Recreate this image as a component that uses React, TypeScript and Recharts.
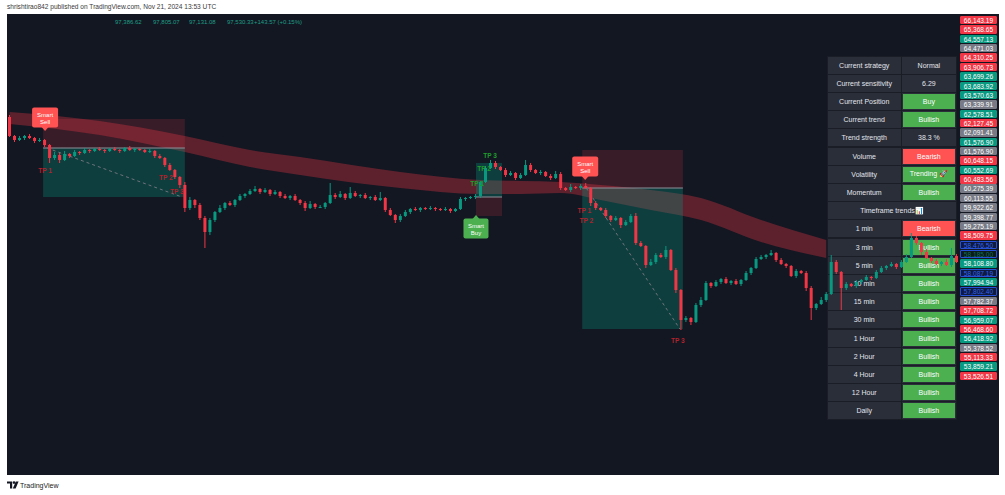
import React from 'react';
import { ComposedChart, Bar, Area, XAxis, YAxis, ReferenceArea, ReferenceLine, ReferenceDot } from 'recharts';

const FONT = '"Liberation Sans", Arial, sans-serif';
const UP = '#089981';
const DOWN = '#f23645';

// ---- candle data (price units) ----
const firstOpen = 98980;
const closes = [
  98790, 98750, 98770, 98790, 98770, 98740, 98750, 98700, 98570, 98600,
  98550, 98610, 98590, 98630, 98620, 98650, 98640, 98660, 98650, 98640,
  98660, 98650, 98640, 98670, 98650, 98660, 98650, 98630, 98640, 98590,
  98570, 98500, 98450, 98380, 98300, 98070, 98150, 98100, 97970, 97830,
  97950, 98030, 98070, 98120, 98100, 98150, 98190, 98210, 98240, 98260,
  98230, 98250, 98210, 98230, 98190, 98170, 98190, 98150, 98120, 98070,
  98110, 98080, 98080, 98120, 98200, 98180, 98210, 98170, 98220, 98190,
  98200, 98170, 98180, 98150, 98170, 98050, 98000, 97950, 97990, 98030,
  98060, 98050, 98070, 98060, 98070, 98060, 98050, 98060, 98040, 98060,
  98160, 98170, 98180, 98190, 98330, 98470, 98520, 98480, 98450, 98400,
  98420, 98370, 98400, 98500, 98450, 98420, 98430, 98390, 98370, 98410,
  98270, 98250, 98280, 98270, 98290, 98270, 98120, 98070, 98050, 97990,
  97950, 97970, 97900, 97930, 97990, 97720, 97690, 97500, 97530, 97600,
  97580, 97650, 97450, 97250, 96950, 96970, 96930, 97100, 97150, 97320,
  97290, 97330, 97360, 97320, 97340, 97310, 97350, 97420, 97470, 97560,
  97580, 97600, 97620, 97550, 97510, 97490, 97390, 97440, 97420, 97270,
  97070, 97110, 97150, 97210, 97530, 97430, 97270, 97310, 97290, 97330,
  97350, 97380, 97370, 97430, 97470, 97490, 97510, 97480, 97530, 97580,
  97770, 97720, 97630, 97570, 97540, 97510, 97530, 97500, 97590, 97530,
];
const wickUp = [
  20, 10, 20, 10, 20, 10, 20, 10, 10, 30,
  20, 30, 10, 20, 10, 20, 10, 10, 20, 10,
  10, 20, 10, 10, 20, 10, 10, 10, 20, 10,
  20, 10, 20, 10, 10, 30, 30, 10, 20, 20,
  20, 10, 30, 10, 20, 10, 20, 10, 20, 30,
  10, 20, 10, 20, 10, 20, 10, 20, 10, 20,
  30, 10, 20, 10, 120, 20, 30, 10, 60, 20,
  10, 20, 10, 20, 60, 10, 20, 10, 20, 20,
  10, 20, 10, 10, 20, 10, 10, 20, 10, 10,
  20, 10, 10, 20, 10, 20, 30, 20, 10, 20,
  20, 10, 20, 50, 20, 10, 20, 10, 20, 30,
  20, 10, 30, 10, 20, 30, 10, 20, 10, 20,
  10, 20, 10, 20, 20, 30, 20, 10, 30, 20,
  20, 40, 10, 20, 10, 20, 10, 20, 30, 20,
  10, 20, 10, 20, 10, 20, 10, 20, 10, 20,
  20, 10, 30, 10, 20, 10, 10, 20, 10, 20,
  20, 10, 30, 20, 70, 20, 10, 20, 10, 20,
  10, 20, 10, 20, 20, 10, 20, 10, 20, 30,
  50, 20, 10, 30, 10, 20, 10, 30, 80, 20,
];
const wickDown = [
  10, 20, 10, 20, 10, 20, 10, 20, 50, 20,
  30, 10, 20, 10, 20, 10, 20, 10, 10, 20,
  10, 10, 20, 10, 10, 20, 10, 10, 10, 20,
  10, 20, 10, 20, 30, 40, 20, 30, 20, 160,
  30, 20, 10, 20, 10, 20, 10, 20, 10, 10,
  20, 10, 20, 10, 20, 10, 20, 10, 20, 30,
  10, 20, 10, 20, 10, 20, 10, 20, 10, 10,
  20, 10, 20, 10, 10, 20, 10, 30, 20, 10,
  20, 10, 20, 10, 10, 20, 10, 10, 20, 10,
  10, 20, 10, 20, 20, 10, 10, 20, 10, 20,
  10, 20, 10, 10, 20, 10, 20, 10, 20, 10,
  20, 10, 20, 10, 20, 10, 30, 20, 10, 20,
  20, 10, 30, 10, 10, 20, 10, 30, 10, 20,
  10, 20, 10, 30, 100, 20, 30, 10, 20, 10,
  20, 10, 20, 10, 20, 10, 20, 10, 20, 10,
  10, 20, 10, 20, 10, 20, 10, 20, 10, 30,
  120, 20, 10, 20, 10, 20, 220, 20, 10, 20,
  20, 10, 20, 10, 10, 20, 10, 20, 10, 10,
  10, 20, 30, 10, 20, 10, 20, 10, 20, 10,
];

// ---- moving-average band (read at key candles) ----
const bandAt = [0, 18, 35, 48, 58, 78, 94, 102, 110, 118, 128, 138, 150, 163];
const bandHigh = [99030, 98940, 98790, 98650, 98580, 98430, 98350, 98340, 98330, 98300, 98250, 98170, 97950, 97750];
const bandLow = [98910, 98800, 98630, 98480, 98400, 98270, 98210, 98210, 98220, 98150, 98050, 97950, 97730, 97570];

// ---- trades ----
const trades = [
  { from: 6.7, to: 35.0, entry: 98670, stop: 98960, target: 98180, side: 'sell' },
  { from: 93.1, to: 98.3, entry: 98180, stop: 97990, target: 98520, side: 'buy' },
  { from: 114.3, to: 134.4, entry: 98270, stop: 98650, target: 96860, side: 'sell' },
];
const tradePaths = [
  { x1: 7.5, y1: 98670, x2: 34.4, y2: 98180 },
  { x1: 115.1, y1: 98270, x2: 133.8, y2: 96860 },
];
const sellSignals = [{ i: 7.1, price: 98840 }, { i: 114.9, price: 98350 }];
const buySignals = [{ i: 93.1, price: 98000 }];
const sellTargets = [
  { i: 7.1, price: 98450, label: 'TP 1' },
  { i: 31.2, price: 98380, label: 'TP 2' },
  { i: 33.4, price: 98240, label: 'TP 3' },
  { i: 114.7, price: 98050, label: 'TP 1' },
  { i: 115.1, price: 97950, label: 'TP 2' },
  { i: 133.4, price: 96750, label: 'TP 3' },
];
const buyTargets = [
  { i: 93.3, price: 98320, label: 'TP 1' },
  { i: 94.7, price: 98470, label: 'TP 2' },
  { i: 95.9, price: 98600, label: 'TP 3' },
];

// ---- header / table / side labels ----
const ohlcTexts = ['97,386.62', '97,805.07', '97,131.08', '97,530.33', '+143.57 (+0.15%)'];
const ohlcLeft = [115, 153, 189, 227, 254];

const tableRows = [
  ['Current strategy', 'Normal', ''],
  ['Current sensitivity', '6.29', ''],
  ['Current Position', 'Buy', 'up'],
  ['Current trend', 'Bullish', 'up'],
  ['Trend strength', '38.3 %', ''],
  ['Volume', 'Bearish', 'down'],
  ['Volatility', 'Trending 🚀', 'up'],
  ['Momentum', 'Bullish', 'up'],
  ['Timeframe trends📊', '', 'span'],
  ['1 min', 'Bearish', 'down'],
  ['3 min', 'Bullish', 'up'],
  ['5 min', 'Bullish', 'up'],
  ['10 min', 'Bullish', 'up'],
  ['15 min', 'Bullish', 'up'],
  ['30 min', 'Bullish', 'up'],
  ['1 Hour', 'Bullish', 'up'],
  ['2 Hour', 'Bullish', 'up'],
  ['4 Hour', 'Bullish', 'up'],
  ['12 Hour', 'Bullish', 'up'],
  ['Daily', 'Bullish', 'up'],
];

const priceLabels = [
  '66,143.19', '65,368.65', '64,557.13', '64,471.03', '64,310.25', '63,906.73', '63,699.26', '63,683.92',
  '63,570.63', '63,339.91', '62,578.51', '62,127.45', '62,091.41', '61,576.90', '61,576.90', '60,648.15',
  '60,552.69', '60,483.56', '60,275.39', '60,113.55', '59,922.62', '59,398.77', '59,275.19', '58,509.75',
  '58,476.50', '58,185.00', '58,108.80', '58,087.19', '57,994.94', '57,802.40', '57,782.37', '57,708.72',
  '56,959.07', '56,468.60', '56,418.92', '55,378.52', '55,113.33', '53,859.21', '53,526.51',
];
const priceLabelKinds = [
  'r', 'r', 'g', 'x', 'r', 'r', 'g', 'g',
  'g', 'x', 'g', 'r', 'x', 'g', 'x', 'r',
  'g', 'r', 'x', 'x', 'x', 'x', 'x', 'r',
  'b', 'k', 'g', 'b', 'g', 'b', 'x', 'r',
  'g', 'r', 'g', 'x', 'r', 'g', 'r',
];
const labelStyles: Record<string, any> = {
  r: { background: '#f23645', color: '#ffffff', border: '1px solid #f23645' },
  g: { background: '#089981', color: '#ffffff', border: '1px solid #089981' },
  x: { background: '#787b86', color: '#ffffff', border: '1px solid #787b86' },
  b: { background: '#101a3e', color: '#2f62f0', border: '1px solid #2451d8' },
  k: { background: '#0d1a1a', color: '#0b6e58', border: '1px solid #2451d8' },
};

const candles = closes.map((c, i) => {
  const o = i === 0 ? firstOpen : closes[i - 1];
  const h = Math.max(o, c) + wickUp[i];
  const l = Math.min(o, c) - wickDown[i];
  return { i, o, h, l, c, range: [l, h] };
});
const bandData = bandAt.map((i, k) => ({ i, band: [bandLow[k], bandHigh[k]] }));

const Candle = (props: any) => {
  const { x, y, width, height } = props;
  const p = props.payload && props.payload.o !== undefined ? props.payload : props;
  const { o, h, l, c } = p;
  if (![x, y, width, height].every((v) => typeof v === 'number' && isFinite(v))) return null;
  const span = h - l;
  const toY = (v: number) => y + ((h - v) / span) * height;
  const cx = x + width / 2;
  const color = c >= o ? UP : DOWN;
  const top = toY(Math.max(o, c));
  const bot = toY(Math.min(o, c));
  const bw = 3;
  return (
    <g>
      <line x1={cx} x2={cx} y1={y} y2={y + height} stroke={color} strokeWidth={1} />
      <rect x={cx - bw / 2} y={top} width={bw} height={Math.max(1, bot - top)} fill={color} />
    </g>
  );
};

const SellMarker = (props: any) => {
  const { cx, cy } = props;
  if (cx == null || cy == null) return null;
  return (
    <g>
      <path d={`M${cx - 3.5},${cy - 4} L${cx},${cy} L${cx + 3.5},${cy - 4} Z`} fill="#ff5252" />
      <rect x={cx - 13} y={cy - 23.5} width={26} height={20} rx={2} fill="#ff5252" />
      <text x={cx} y={cy - 16.5} textAnchor="middle" dominantBaseline="central" fontSize={6} fill="#ffffff" fontFamily={FONT}>Smart</text>
      <text x={cx} y={cy - 9.5} textAnchor="middle" dominantBaseline="central" fontSize={6} fill="#ffffff" fontFamily={FONT}>Sell</text>
    </g>
  );
};

const BuyMarker = (props: any) => {
  const { cx, cy } = props;
  if (cx == null || cy == null) return null;
  return (
    <g>
      <path d={`M${cx - 3.5},${cy + 4} L${cx},${cy} L${cx + 3.5},${cy + 4} Z`} fill="#4caf50" />
      <rect x={cx - 12.5} y={cy + 3.5} width={25} height={20} rx={2} fill="#4caf50" />
      <text x={cx} y={cy + 10.5} textAnchor="middle" dominantBaseline="central" fontSize={6} fill="#ffffff" fontFamily={FONT}>Smart</text>
      <text x={cx} y={cy + 17.5} textAnchor="middle" dominantBaseline="central" fontSize={6} fill="#ffffff" fontFamily={FONT}>Buy</text>
    </g>
  );
};

const makeTP = (label: string, color: string) => (props: any) => {
  const { cx, cy } = props;
  if (cx == null || cy == null) return null;
  return (
    <text x={cx} y={cy} textAnchor="middle" dominantBaseline="central" fontSize={6.5} fontWeight={700} fill={color} fontFamily={FONT}>
      {label}
    </text>
  );
};

export default function App() {
  return (
    <div style={{ position: 'absolute', left: 0, top: 0, width: 1005, height: 495, background: '#ffffff', overflow: 'hidden', fontFamily: FONT }}>
      <div style={{ position: 'absolute', left: 7, top: 3, fontSize: 6.6, color: '#3a3a3a', whiteSpace: 'nowrap', lineHeight: '8px' }}>
        shrishtirao842 published on TradingView.com, Nov 21, 2024 13:53 UTC
      </div>
      <div style={{ position: 'absolute', left: 7, top: 14, width: 992, height: 461, background: '#131722' }} />
      {ohlcTexts.map((t, k) => (
        <div key={k} style={{ position: 'absolute', left: ohlcLeft[k], top: 18, fontSize: 6, color: '#1f9e86', whiteSpace: 'nowrap', lineHeight: '8px' }}>{t}</div>
      ))}

      {/* status table */}
      <div style={{ position: 'absolute', left: 827, top: 56, width: 130, height: 364, background: '#1a1d26', zIndex: 1 }}>
        {tableRows.map(([a, b, k], r) => {
          const top = r * 18.2 + 0.6;
          const cellText = { display: 'flex', alignItems: 'center', justifyContent: 'center', fontSize: 7, color: '#e3e5ec', whiteSpace: 'nowrap' } as any;
          if (k === 'span') {
            return (
              <div key={r} style={{ position: 'absolute', left: 0.8, top, width: 128.4, height: 17, background: '#2a2e39', ...cellText }}>{a}</div>
            );
          }
          return (
            <React.Fragment key={r}>
              <div style={{ position: 'absolute', left: 0.8, top, width: 72.8, height: 17, background: '#2a2e39', ...cellText }}>{a}</div>
              <div style={{ position: 'absolute', left: 74.6, top, width: 54.6, height: 17, background: '#2a2e39', ...cellText }}>
                {k ? (
                  <div style={{ position: 'absolute', left: 1.7, right: 1.7, top: 1, bottom: 1, background: k === 'up' ? '#4caf50' : '#ff5252', ...cellText, color: '#ffffff' }}>{b}</div>
                ) : b}
              </div>
            </React.Fragment>
          );
        })}
      </div>

      <div style={{ position: 'absolute', left: 0, top: 0, zIndex: 2 }}>
        <ComposedChart width={1005} height={495} data={candles} margin={{ top: 14, right: 46, bottom: 20, left: 7 }}>
          <XAxis dataKey="i" type="number" domain={[-0.5, 189.5]} allowDataOverflow hide />
          <YAxis type="number" domain={[95400, 100010]} allowDataOverflow hide />
          <Area data={bandData} dataKey="band" type="monotone" fill="#f23645" fillOpacity={0.33} stroke="none" isAnimationActive={false} zIndex={100} />
          {trades.map((t, k) => (
            <ReferenceArea key={`s${k}`} x1={t.from} x2={t.to} y1={t.entry} y2={t.stop} fill="#f23645" fillOpacity={0.17} stroke="none" zIndex={110} />
          ))}
          {trades.map((t, k) => (
            <ReferenceArea key={`t${k}`} x1={t.from} x2={t.to} y1={t.entry} y2={t.target} fill="#089981" fillOpacity={0.3} stroke="none" zIndex={110} />
          ))}
          {trades.map((t, k) => (
            <ReferenceLine key={`e${k}`} segment={[{ x: t.from, y: t.entry }, { x: t.to, y: t.entry }]} stroke="#8d909a" strokeWidth={1} zIndex={120} />
          ))}
          {tradePaths.map((p, k) => (
            <ReferenceLine key={`d${k}`} segment={[{ x: p.x1, y: p.y1 }, { x: p.x2, y: p.y2 }]} stroke="#6f737d" strokeWidth={1} strokeDasharray="3 3" zIndex={120} />
          ))}
          <Bar dataKey="range" barSize={3} shape={Candle} isAnimationActive={false} zIndex={300} />
          {sellSignals.map((s, k) => (
            <ReferenceDot key={`ss${k}`} x={s.i} y={s.price} r={0} shape={SellMarker} zIndex={700} />
          ))}
          {buySignals.map((s, k) => (
            <ReferenceDot key={`bs${k}`} x={s.i} y={s.price} r={0} shape={BuyMarker} zIndex={700} />
          ))}
          {sellTargets.map((s, k) => (
            <ReferenceDot key={`st${k}`} x={s.i} y={s.price} r={0} shape={makeTP(s.label, '#b0222c')} zIndex={700} />
          ))}
          {buyTargets.map((s, k) => (
            <ReferenceDot key={`bt${k}`} x={s.i} y={s.price} r={0} shape={makeTP(s.label, '#1f9d2b')} zIndex={700} />
          ))}
        </ComposedChart>
      </div>

      {/* right-hand value labels */}
      {priceLabels.map((t, k) => (
        <div key={k} style={{ position: 'absolute', left: 960, top: 16 + k * 9.36, width: 37, height: 8.4, boxSizing: 'border-box', fontSize: 6.6, lineHeight: '7px', textAlign: 'center', borderRadius: 1, zIndex: 3, ...labelStyles[priceLabelKinds[k]] }}>{t}</div>
      ))}

      {/* footer logo */}
      <svg style={{ position: 'absolute', left: 7, top: 481 }} width={12} height={8} viewBox="0 0 12 8">
        <path d="M0 0.5 H5.2 V7.5 H3 V2.6 H0 Z" fill="#131722" />
        <circle cx={7} cy={1.6} r={1.3} fill="#131722" />
        <path d="M8.8 0.5 H11.6 L8.6 7.5 H5.8 Z" fill="#131722" />
      </svg>
      <div style={{ position: 'absolute', left: 20, top: 480.5, fontSize: 7, color: '#222', lineHeight: '9px', whiteSpace: 'nowrap' }}>TradingView</div>
    </div>
  );
}
